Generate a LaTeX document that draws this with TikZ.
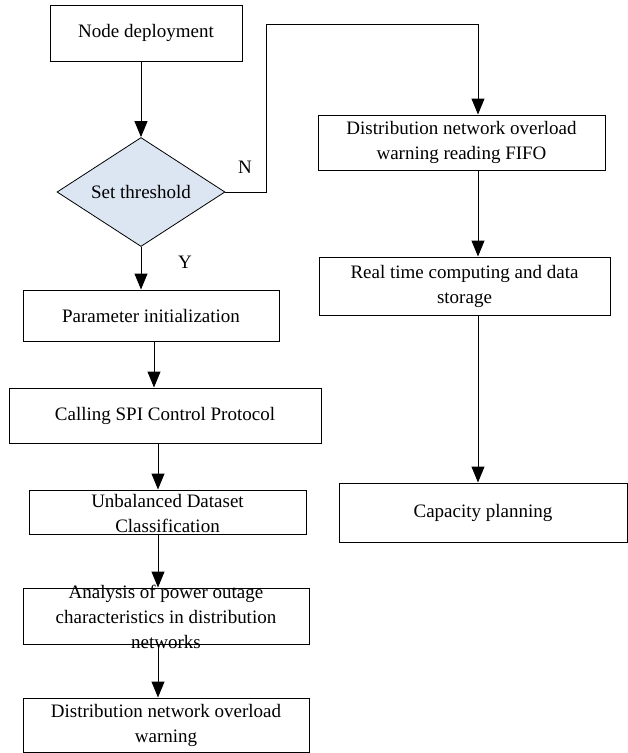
\documentclass[tikz,border=0pt]{standalone}
\usepackage{fontspec}
\setmainfont{Liberation Serif}
\usetikzlibrary{arrows.meta,shapes.geometric}
\definecolor{decfill}{RGB}{220,230,242}
\tikzset{box/.style={draw, line width=1pt, inner sep=0pt, align=center, font=\fontsize{19}{25}\selectfont},
  txt/.style={inner sep=0pt, align=center, font=\fontsize{19}{25}\selectfont},
  decision/.style={diamond, draw, line width=0.8pt, fill=decfill, aspect=1.54, inner sep=0pt, font=\fontsize{19}{25}\selectfont},
  arr/.style={line width=1pt, -{Triangle[length=16pt,width=13pt]}}}

\begin{document}
\begin{tikzpicture}[x=1pt,y=-1pt]
	\useasboundingbox (0,0) rectangle (628,753);
	% left column
	\node[box, minimum width=192, minimum height=56] (deploy) at (146,33) {Node deployment};
	\node[decision, minimum width=168, minimum height=109] (thresh) at (141,192) {Set threshold};
	\node[box, minimum width=256, minimum height=51] (init) at (151,315.5) {Parameter initialization};
	\node[box, minimum width=312, minimum height=55] (spi) at (165,415.5) {Calling SPI Control Protocol};
	\node[box, minimum width=277, minimum height=44] (unbal) at (167.5,512) {};
	\node[txt] (unbaltext) at (167.5,513) {Unbalanced Dataset\\Classification};
	\node[box, minimum width=286, minimum height=56] (anal) at (166,616) {};
	\node[txt] (analtext) at (166,617) {Analysis of power outage\\characteristics in distribution\\networks};
	\node[box, minimum width=286, minimum height=54] (warn) at (166,725) {Distribution network overload\\warning};
	% right column
	\node[box, minimum width=287, minimum height=55] (fifo) at (461.5,142.5) {Distribution network overload\\warning reading FIFO};
	\node[box, minimum width=291, minimum height=58] (rtc) at (464.5,286) {Real time computing and data\\storage};
	\node[box, minimum width=288, minimum height=59] (cap) at (483,512.5) {Capacity planning};
	% branch labels
	\node[txt] (nlab) at (245,167) {N};
	\node[txt] (ylab) at (185,262) {Y};
	\coordinate (bend) at (266,24);
	\coordinate (rline) at (478,24);
	\coordinate (lline) at (158,0);
	% connectors
	\draw[arr] (deploy.south -| thresh.north) -- (thresh.north);
	\draw[arr] (thresh.south) -- (thresh.south |- init.north);
	\draw[arr] ([xshift=3]init.south) -- ([xshift=3]init.south |- spi.north);
	\draw[arr] (lline |- spi.south) -- (lline |- unbal.north);
	\draw[arr] (lline |- unbal.south) -- (lline |- anal.north);
	\draw[arr] (lline |- anal.south) -- (lline |- warn.north);
	\draw[arr] (thresh.east) -| (bend) -- (rline) -- (rline |- fifo.north);
	\draw[arr] (rline |- fifo.south) -- (rline |- rtc.north);
	\draw[arr] (rline |- rtc.south) -- (rline |- cap.north);
\end{tikzpicture}
\end{document}
